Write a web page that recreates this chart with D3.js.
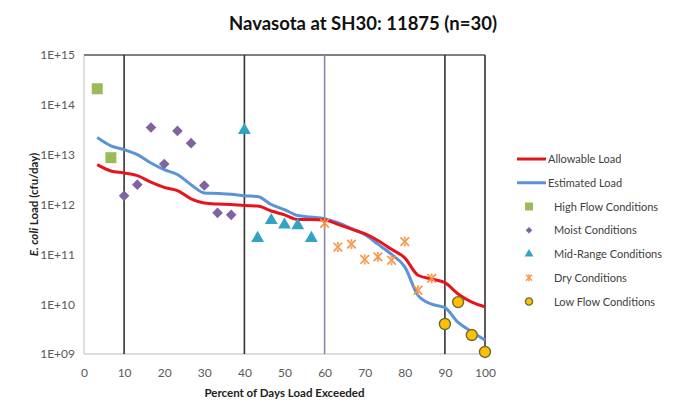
<!DOCTYPE html>
<html><head><meta charset="utf-8">
<script src="https://cdn.jsdelivr.net/npm/d3@7"></script>
<style>
body{margin:0;background:#fff;}
svg{display:block;font-family:Lato,"Open Sans",sans-serif;}
</style></head>
<body><svg id="c" width="678" height="402"></svg>
<script>
const title = "Navasota at SH30: 11875 (n=30)";
const xTicks = [0,10,20,30,40,50,60,70,80,90,100];
const yTicks = [1e9,1e10,1e11,1e12,1e13,1e14,1e15];
const yTickLabels = ["1E+09","1E+10","1E+11","1E+12","1E+13","1E+14","1E+15"];
const dividers = [10,40,60,90,100];
const linePct = [3.3,6.7,10,13.3,16.7,20,23.3,26.7,30,33.3,36.7,40,43.3,46.7,50,53.3,56.7,60,63.3,66.7,70,73.3,76.7,80,83.3,86.7,90,93.3,96.7,100];
const allowable = [6.3e12,4.7e12,4.3e12,3.8e12,2.8e12,2.2e12,1.9e12,1.3e12,1.07e12,1.02e12,1.0e12,9.5e11,9.3e11,7.4e11,6.2e11,5.0e11,5.0e11,4.9e11,4.0e11,3.2e11,2.6e11,1.9e11,1.26e11,8.5e10,3.8e10,3.2e10,2.7e10,1.6e10,1.1e10,8.9e9];
const estimated = [2.2e13,1.5e13,1.26e13,1.0e13,6.8e12,5.0e12,4.0e12,2.5e12,1.7e12,1.66e12,1.6e12,1.5e12,1.45e12,1.0e12,7.9e11,6.0e11,5.6e11,5.2e11,4.3e11,3.3e11,2.5e11,1.6e11,1.0e11,5.6e10,1.5e10,1.0e10,8.5e9,4.3e9,2.8e9,1.9e9];
const highPct = [3.3,6.7];
const highVal = [2.1e14,8.7e12];
const moistPct = [10,13.3,16.7,20,23.3,26.7,30,33.3,36.7];
const moistVal = [1.5e12,2.5e12,3.5e13,6.5e12,3.0e13,1.7e13,2.4e12,6.8e11,6.2e11];
const midPct = [40,43.3,46.7,50,53.3,56.7];
const midVal = [3.1e13,2.1e11,4.8e11,3.9e11,3.8e11,2.1e11];
const dryPct = [60,63.3,66.7,70,73.3,76.7,80,83.3,86.7];
const dryVal = [4.2e11,1.4e11,1.6e11,7.9e10,8.9e10,7.6e10,1.8e11,1.9e10,3.3e10];
const lowPct = [90,93.3,96.7,100];
const lowVal = [4.0e9,1.1e10,2.4e9,1.1e9];

const svg = d3.select("#c");
const L=84,R=485,T=55,B=354;
const x = d3.scaleLinear().domain([0,100]).range([L,R]);
const y = d3.scaleLog().domain([1e9,1e15]).range([B,T]);
const txt = "#404040";

// plot border
svg.append("line").attr("x1",L).attr("x2",L).attr("y1",T).attr("y2",B).attr("stroke","#d0d0d0").attr("stroke-width",1.3);
svg.append("line").attr("x1",L).attr("x2",R).attr("y1",B).attr("y2",B).attr("stroke","#d0d0d0").attr("stroke-width",1.3);
svg.append("line").attr("x1",L).attr("x2",R).attr("y1",T).attr("y2",T).attr("stroke","#808080").attr("stroke-width",2);

// dividers
svg.selectAll(".dv").data(dividers).enter().append("line")
  .attr("x1",d=>x(d)).attr("x2",d=>x(d)).attr("y1",T).attr("y2",B)
  .attr("stroke",d=>d===60?"#8a8aa8":"#333").attr("stroke-width",1.6);

// axes
const xa = svg.append("g").attr("transform",`translate(0,${B})`)
  .call(d3.axisBottom(x).tickValues(xTicks).tickSize(0).tickPadding(14));
xa.select(".domain").remove();
xa.selectAll("text").attr("fill","#595959").attr("font-size",12).attr("font-family","Lato,sans-serif");
const ya = svg.append("g").attr("transform",`translate(${L},0)`)
  .call(d3.axisLeft(y).tickValues(yTicks).tickFormat((d,i)=>yTickLabels[i]).tickSize(0).tickPadding(9));
ya.select(".domain").remove();
ya.selectAll("text").attr("fill","#595959").attr("font-size",12).attr("font-family","Lato,sans-serif");

// lines
const ln = d3.line().x((d,i)=>x(linePct[i])).y(d=>y(d)).curve(d3.curveMonotoneX);
svg.append("path").attr("d",ln(estimated)).attr("fill","none").attr("stroke","#5b93d8").attr("stroke-width",3);
svg.append("path").attr("d",ln(allowable)).attr("fill","none").attr("stroke","#e8141c").attr("stroke-width",3);

// markers
const sym = (type,size)=>d3.symbol().type(type).size(size)();
function pts(pcts,vals,draw){
  const g = svg.append("g");
  pcts.forEach((p,i)=>draw(g.append("g").attr("transform",`translate(${x(p)},${y(vals[i])})`)));
}
const starPath = s=>`M${-s},${-s}L${s},${s}M${-s},${s}L${s},${-s}M0,${-s*1.15}V${-s*0.5}M0,${s*0.5}V${s*1.15}`;
const drawSq = g=>g.append("rect").attr("x",-5.5).attr("y",-5.5).attr("width",11).attr("height",11).attr("fill","#9bbb59");
const drawDi = g=>g.append("path").attr("d",sym(d3.symbolDiamond2,72)).attr("fill","#8064a2");
const drawTr = g=>g.append("path").attr("d",sym(d3.symbolTriangle,72)).attr("fill","#31a3c4");
const drawX = g=>g.append("path").attr("d",starPath(4.3)).attr("stroke","#f79646").attr("stroke-width",1.7).attr("fill","none");
const drawC = g=>g.append("circle").attr("r",5.5).attr("fill","#ffc000").attr("stroke","#6b6b3a").attr("stroke-width",1.4);
pts(highPct,highVal,drawSq);
pts(moistPct,moistVal,drawDi);
pts(midPct,midVal,drawTr);
pts(dryPct,dryVal,drawX);
pts(lowPct,lowVal,drawC);

// title
svg.append("text").attr("x",363).attr("y",30).attr("text-anchor","middle")
  .attr("font-size",18.5).attr("font-weight","bold").attr("fill","#111").text(title);
// axis titles
svg.append("text").attr("x",(L+R)/2).attr("y",397).attr("text-anchor","middle")
  .attr("font-size",11.5).attr("font-weight","bold").attr("fill","#222").text("Percent of Days Load Exceeded");
const yt = svg.append("text").attr("transform",`translate(38,${(T+B)/2}) rotate(-90)`).attr("text-anchor","middle")
  .attr("font-size",11.5).attr("font-weight","bold").attr("fill","#222");
yt.append("tspan").attr("font-style","italic").text("E. coli");
yt.append("tspan").text(" Load (cfu/day)");

// legend
const legItems = [
  {name:"Allowable Load",kind:"line",color:"#e8141c"},
  {name:"Estimated Load",kind:"line",color:"#5b93d8"},
  {name:"High Flow Conditions",kind:"sq"},
  {name:"Moist Conditions",kind:"di"},
  {name:"Mid-Range Conditions",kind:"tr"},
  {name:"Dry Conditions",kind:"x"},
  {name:"Low Flow Conditions",kind:"c"}
];
const legY = d3.scalePoint().domain(legItems.map(d=>d.name)).range([159,301.5]);
legItems.forEach(it=>{
  const g = svg.append("g").attr("transform",`translate(0,${legY(it.name)})`);
  if(it.kind==="line") g.append("line").attr("x1",517).attr("x2",546).attr("stroke",it.color).attr("stroke-width",3);
  else {
    const m = g.append("g").attr("transform","translate(529,0)");
    if(it.kind==="sq") m.append("rect").attr("x",-4).attr("y",-4).attr("width",8).attr("height",8).attr("fill","#9bbb59");
    if(it.kind==="di") m.append("path").attr("d",sym(d3.symbolDiamond2,28)).attr("fill","#8064a2");
    if(it.kind==="tr") m.append("path").attr("d",sym(d3.symbolTriangle,34)).attr("fill","#31a3c4");
    if(it.kind==="x") m.append("path").attr("d",starPath(3)).attr("stroke","#f79646").attr("stroke-width",1.4).attr("fill","none");
    if(it.kind==="c") m.append("circle").attr("r",3.6).attr("fill","#ffc000").attr("stroke","#6b6b3a").attr("stroke-width",1.3);
  }
  g.append("text").attr("x",it.kind==="line"?548:554).attr("y",4).attr("font-size",11).attr("fill",txt).text(it.name);
});
</script></body></html>
